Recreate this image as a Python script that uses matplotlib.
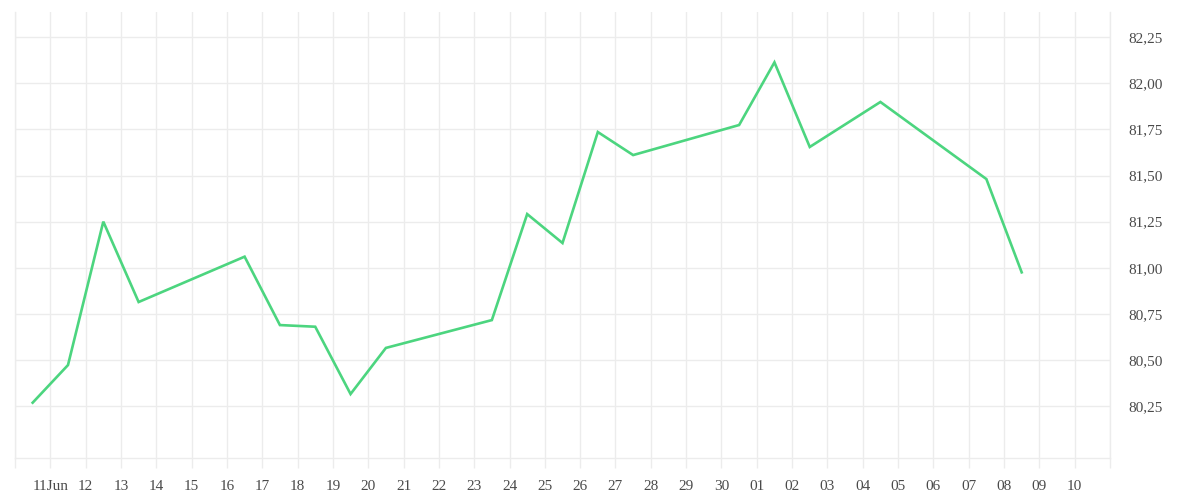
import matplotlib
matplotlib.use("Agg")
import matplotlib.pyplot as plt
import matplotlib.dates as mdates
import matplotlib.ticker as mticker
from datetime import datetime, timedelta

# daily closes, stamped at noon
dates = [
    "2024-06-10", "2024-06-11", "2024-06-12", "2024-06-13", "2024-06-16",
    "2024-06-17", "2024-06-18", "2024-06-19", "2024-06-20", "2024-06-23",
    "2024-06-24", "2024-06-25", "2024-06-26", "2024-06-27", "2024-06-30",
    "2024-07-01", "2024-07-02", "2024-07-04", "2024-07-07", "2024-07-08",
]
values = [
    80.268, 80.472, 81.250, 80.814, 81.060,
    80.689, 80.680, 80.315, 80.565, 80.716,
    81.291, 81.134, 81.736, 81.611, 81.774,
    82.114, 81.655, 81.899, 81.481, 80.975,
]
y_ticks = [80.25, 80.50, 80.75, 81.00, 81.25, 81.50, 81.75, 82.00, 82.25]

GRID = "#ececec"
TEXT = "#4a4a4a"
LINE = "#4cd57f"


def main():
    x = [datetime.strptime(d, "%Y-%m-%d") + timedelta(hours=12) for d in dates]

    fig = plt.figure(figsize=(12, 5), dpi=100)
    ax = fig.add_axes([0.0125, 0.084, 0.9125, 0.892])

    ax.plot(x, values, color=LINE, linewidth=1.9, solid_joinstyle="miter", zorder=3)

    ax.set_xlim(datetime(2024, 6, 10), datetime(2024, 7, 11))
    ax.set_ylim(79.968, 82.387)

    # x ticks: every day, first labelled with month
    ax.xaxis.set_major_locator(mdates.DayLocator())

    def fmt_day(v, pos):
        d = mdates.num2date(v)
        if d.month == 6 and d.day == 11:
            return "11Jun"
        if (d.month, d.day) in ((6, 10), (7, 11)):
            return ""
        return d.strftime("%d")

    ax.xaxis.set_major_formatter(mticker.FuncFormatter(fmt_day))

    ax.yaxis.tick_right()
    ax.set_yticks(y_ticks)
    ax.yaxis.set_major_formatter(
        mticker.FuncFormatter(lambda v, p: f"{v:.2f}".replace(".", ",")))

    ax.grid(True, color=GRID, linewidth=1, zorder=0)
    ax.set_axisbelow(True)
    ax.tick_params(axis="x", length=7.5, width=1, color=GRID, pad=8,
                   labelsize=11, labelcolor=TEXT)
    ax.tick_params(axis="y", length=0, pad=13, labelsize=11, labelcolor=TEXT)
    for lbl in ax.get_xticklabels() + ax.get_yticklabels():
        lbl.set_fontfamily("Liberation Serif")

    for side in ("left", "right", "bottom"):
        ax.spines[side].set_color(GRID)
        ax.spines[side].set_linewidth(1)
    ax.spines["top"].set_visible(False)

    fig.savefig("out.png", dpi=100)


if __name__ == "__main__":
    main()
